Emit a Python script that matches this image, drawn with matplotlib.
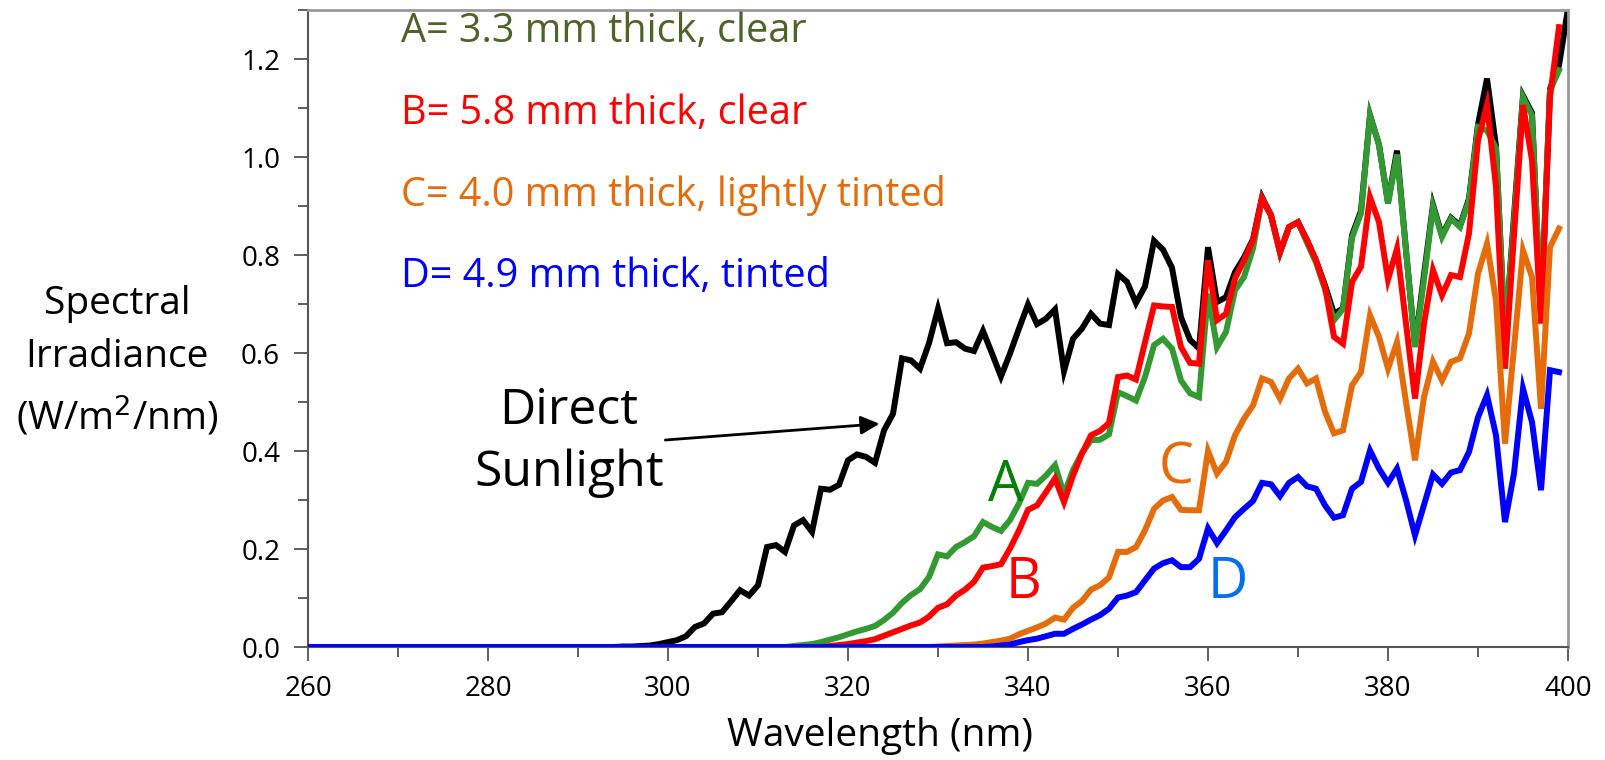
import numpy as np
import matplotlib
matplotlib.use("Agg")
import matplotlib.pyplot as plt
from matplotlib.ticker import MultipleLocator

plt.rcParams['font.family'] = ['Open Sans', 'DejaVu Sans']

# wavelength grid (nm), 1 nm steps
wavelength = np.arange(260, 401)

# Direct sunlight (W/m2/nm), 260..400
sunlight = [0.0] * 35 + [
    0.001, 0.001, 0.002, 0.003, 0.006,                                   # 295-299
    0.010, 0.014, 0.022, 0.041, 0.048, 0.068, 0.071, 0.093, 0.116, 0.105,  # 300
    0.126, 0.204, 0.208, 0.194, 0.248, 0.259, 0.235, 0.323, 0.321, 0.331,  # 310
    0.381, 0.393, 0.388, 0.376, 0.442, 0.476, 0.589, 0.585, 0.568, 0.620,  # 320
    0.690, 0.620, 0.622, 0.609, 0.604, 0.645, 0.599, 0.552, 0.599, 0.650,  # 330
    0.699, 0.659, 0.670, 0.689, 0.563, 0.629, 0.650, 0.680, 0.660, 0.657,  # 340
    0.761, 0.745, 0.702, 0.736, 0.829, 0.811, 0.774, 0.673, 0.627, 0.609,  # 350
    0.816, 0.704, 0.714, 0.765, 0.795, 0.832, 0.918, 0.881, 0.806, 0.857,  # 360
    0.867, 0.830, 0.789, 0.738, 0.680, 0.691, 0.840, 0.890, 1.085, 1.025,  # 370
    0.907, 1.013, 0.810, 0.615, 0.760, 0.902, 0.840, 0.876, 0.860, 0.915,  # 380
    1.066, 1.160, 1.022, 0.625, 0.880, 1.125, 1.090, 0.670, 1.139, 1.187,  # 390
    1.303]

# A = 3.3 mm clear
glass_a = [0.0] * 54 + [
    0.002, 0.004, 0.006, 0.010, 0.015, 0.020,                              # 314-319
    0.026, 0.032, 0.037, 0.043, 0.055, 0.070, 0.090, 0.106, 0.118, 0.143,  # 320
    0.189, 0.185, 0.204, 0.214, 0.226, 0.255, 0.245, 0.237, 0.259, 0.293,  # 330
    0.335, 0.333, 0.350, 0.371, 0.312, 0.361, 0.396, 0.422, 0.423, 0.434,  # 340
    0.520, 0.512, 0.503, 0.551, 0.616, 0.629, 0.609, 0.544, 0.518, 0.510,  # 350
    0.721, 0.612, 0.643, 0.728, 0.755, 0.813, 0.915, 0.881, 0.804, 0.857,  # 360
    0.867, 0.825, 0.785, 0.730, 0.667, 0.690, 0.835, 0.885, 1.085, 1.025,  # 370
    0.905, 1.005, 0.810, 0.612, 0.750, 0.898, 0.837, 0.874, 0.857, 0.912,  # 380
    1.061, 1.054, 1.018, 0.630, 0.870, 1.122, 1.085, 0.680, 1.136, 1.177,  # 390
    np.nan]

# B = 5.8 mm clear
glass_b = [0.0] * 58 + [
    0.002, 0.004,                                                          # 318-319
    0.006, 0.009, 0.012, 0.016, 0.023, 0.030, 0.037, 0.044, 0.050, 0.062,  # 320
    0.080, 0.087, 0.105, 0.117, 0.133, 0.162, 0.165, 0.169, 0.201, 0.238,  # 330
    0.280, 0.289, 0.316, 0.344, 0.296, 0.350, 0.395, 0.432, 0.441, 0.457,  # 340
    0.551, 0.554, 0.546, 0.622, 0.697, 0.695, 0.694, 0.612, 0.580, 0.578,  # 350
    0.789, 0.667, 0.680, 0.752, 0.789, 0.830, 0.915, 0.881, 0.806, 0.857,  # 360
    0.867, 0.830, 0.789, 0.735, 0.633, 0.619, 0.745, 0.776, 0.918, 0.867,  # 370
    0.750, 0.813, 0.660, 0.507, 0.660, 0.769, 0.718, 0.759, 0.755, 0.844,  # 380
    1.034, 1.106, 0.939, 0.568, 0.840, 1.106, 0.993, 0.660, 1.122, 1.265,  # 390
    np.nan]

# C = 4.0 mm lightly tinted
glass_c = [0.0] * 70 + [
    0.001, 0.002, 0.003, 0.004, 0.005, 0.007, 0.010, 0.013, 0.017, 0.026,  # 330
    0.033, 0.040, 0.048, 0.060, 0.056, 0.080, 0.094, 0.117, 0.126, 0.142,  # 340
    0.194, 0.194, 0.204, 0.238, 0.282, 0.299, 0.306, 0.280, 0.279, 0.279,  # 350
    0.400, 0.354, 0.378, 0.432, 0.466, 0.493, 0.548, 0.541, 0.507, 0.548,  # 360
    0.568, 0.538, 0.548, 0.480, 0.436, 0.442, 0.534, 0.561, 0.677, 0.633,  # 370
    0.568, 0.622, 0.500, 0.381, 0.510, 0.582, 0.544, 0.582, 0.589, 0.640,  # 380
    0.762, 0.823, 0.707, 0.415, 0.610, 0.809, 0.755, 0.486, 0.816, 0.854,  # 390
    np.nan]

# D = 4.9 mm tinted
glass_d = [0.0] * 76 + [
    0.001, 0.003, 0.005, 0.010,                                            # 336-339
    0.014, 0.017, 0.022, 0.027, 0.027, 0.037, 0.046, 0.056, 0.065, 0.078,  # 340
    0.101, 0.105, 0.112, 0.136, 0.160, 0.171, 0.177, 0.163, 0.163, 0.180,  # 350
    0.242, 0.212, 0.238, 0.265, 0.282, 0.298, 0.335, 0.332, 0.308, 0.335,  # 360
    0.347, 0.328, 0.323, 0.289, 0.264, 0.269, 0.323, 0.337, 0.401, 0.364,  # 370
    0.335, 0.364, 0.300, 0.228, 0.290, 0.352, 0.333, 0.356, 0.361, 0.398,  # 380
    0.469, 0.514, 0.432, 0.255, 0.354, 0.527, 0.459, 0.320, 0.565, 0.561,  # 390
    np.nan]

legend_texts = ["A= 3.3 mm thick, clear", "B= 5.8 mm thick, clear",
                "C= 4.0 mm thick, lightly tinted", "D= 4.9 mm thick, tinted"]
legend_colors = ["#4F6228", "#FF0000", "#E46C0A", "#0000FF"]

fig = plt.figure(figsize=(16.05, 7.6), dpi=100)
ax = fig.add_axes([308 / 1605, 1 - 647 / 760, 1260 / 1605, 637 / 760])

lw = 4.3
ax.plot(wavelength, sunlight, color="black", lw=lw, solid_joinstyle="miter", zorder=2)
ax.plot(wavelength, glass_a, color="#339933", lw=lw, solid_joinstyle="miter", zorder=3)
ax.plot(wavelength, glass_b, color="#FF0000", lw=lw, solid_joinstyle="miter", zorder=4)
ax.plot(wavelength, glass_c, color="#E46C0A", lw=lw, solid_joinstyle="miter", zorder=5)
ax.plot(wavelength, glass_d, color="#0000FF", lw=lw, solid_joinstyle="miter", zorder=6)

ax.set_xlim(260, 400)
ax.set_ylim(0, 1.3)
ax.xaxis.set_major_locator(MultipleLocator(20))
ax.xaxis.set_minor_locator(MultipleLocator(10))
ax.yaxis.set_minor_locator(MultipleLocator(0.1))
ax.set_yticks(np.arange(0, 1.21, 0.2))
ax.set_yticklabels([f"{v:.1f}" for v in np.arange(0, 1.21, 0.2)])
ax.tick_params(axis="both", which="major", direction="out", length=10, width=1.2,
               colors="#444444", labelcolor="black", labelsize=20)
ax.tick_params(axis="both", which="minor", direction="out", length=7, width=1.2,
               colors="#444444")
ax.tick_params(axis="x", pad=10)
ax.tick_params(axis="y", pad=10)

for side in ["left", "bottom"]:
    ax.spines[side].set_color("#555555")
    ax.spines[side].set_linewidth(1.5)
for side in ["top", "right"]:
    ax.spines[side].set_color("#999999")
    ax.spines[side].set_linewidth(2)

# legend-style texts
legend_y = [1.255, 1.088, 0.921, 0.755]
for txt, col, yy in zip(legend_texts, legend_colors, legend_y):
    ax.text(270.3, yy, txt, color=col, fontsize=28.5, va="center", ha="left")

# curve labels
ax.text(337.5, 0.328, "A", color="#008000", fontsize=40, ha="center", va="center")
ax.text(339.5, 0.13, "B", color="#FF0000", fontsize=40, ha="center", va="center")
ax.text(356.5, 0.363, "C", color="#E46C0A", fontsize=40, ha="center", va="center")
ax.text(362.2, 0.13, "D", color="#0070F0", fontsize=40, ha="center", va="center")

ax.text(289.0, 0.418, "Direct\nSunlight", color="black", fontsize=36,
        ha="center", va="center", linespacing=1.32)
ax.annotate("", xy=(323.8, 0.456), xytext=(299.4, 0.422),
            arrowprops=dict(arrowstyle="-|>", color="black", lw=2, mutation_scale=28))

fig.text(117 / 1605, 1 - 362 / 760, "Spectral\nIrradiance\n(W/m$^2$/nm)", fontsize=28,
         ha="center", va="center", multialignment="center", linespacing=1.5)
fig.text(880 / 1605, 1 - 736 / 760, "Wavelength (nm)", fontsize=28,
         ha="center", va="center")

fig.savefig("out.png", dpi=100)
